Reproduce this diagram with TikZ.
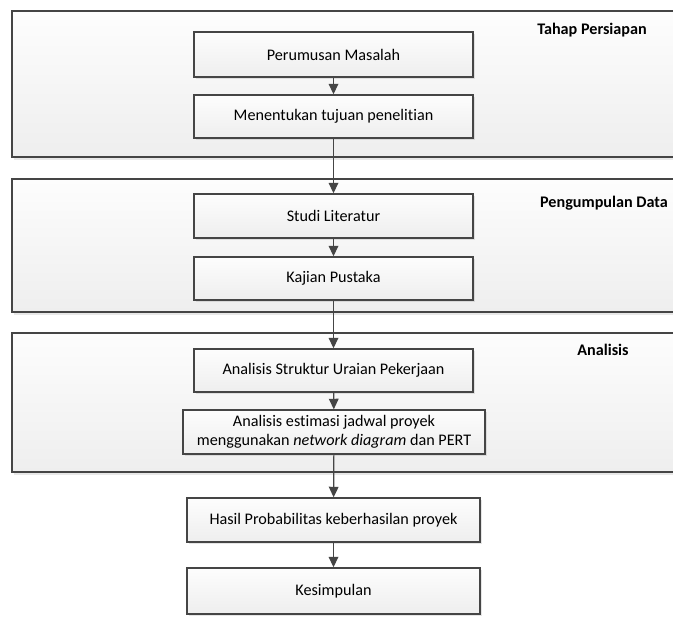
\documentclass[tikz,border=0pt]{standalone}
\usepackage{fontspec}
\setmainfont{Carlito}[Ligatures={NoCommon}]
\usetikzlibrary{arrows.meta,shadows}

\definecolor{edge}{HTML}{454545}
\definecolor{paneltop}{HTML}{FDFDFD}
\definecolor{panelbot}{HTML}{EEEEEE}

\begin{document}
\begin{tikzpicture}[x=0.02cm,y=-0.02cm,
	stage/.style={draw=edge,line width=0.9pt,top color=paneltop,bottom color=panelbot,
		drop shadow={opacity=0.18,shadow xshift=1pt,shadow yshift=-1.5pt}},
	proc/.style={draw=edge,line width=0.8pt,top color=paneltop,bottom color=panelbot,
		minimum width=5.58cm,minimum height=0.88cm,inner sep=1pt,align=center,
		font=\fontsize{9.2}{10.8}\selectfont,
		drop shadow={opacity=0.2,shadow xshift=1pt,shadow yshift=-1.2pt}},
	tag/.style={font=\fontsize{9.2}{10.8}\selectfont\bfseries,inner sep=0pt},
	flow/.style={draw=edge,line width=0.7pt,-{Triangle[width=5.5pt,length=6pt]}}]
	\clip (0,0) rectangle (673,616);
	\fill[white] (0,0) rectangle (673,616);

	% tahapan
	\draw[stage] (12,11) rectangle (700,157);
	\draw[stage] (12,179) rectangle (700,312);
	\draw[stage] (12,333) rectangle (700,472);
	\node[tag] (tag1) at (592,30) {Tahap Persiapan};
	\node[tag] (tag2) at (604,203) {Pengumpulan Data};
	\node[tag] (tag3) at (603,350) {Analisis};

	% proses
	\node[proc,minimum height=0.9cm] (masalah) at (333.5,54.5) {Perumusan Masalah};
	\node[proc,minimum height=0.86cm] (tujuan) at (333.5,116.5) {Menentukan tujuan penelitian};
	\node[proc] (literatur) at (333.5,216) {Studi Literatur};
	\node[proc,minimum height=0.86cm] (pustaka) at (333.5,278.5) {Kajian Pustaka};
	\node[proc,minimum height=0.86cm] (wbs) at (333.5,370.5) {Analisis Struktur Uraian Pekerjaan};
	\node[proc,minimum width=6.04cm] (jadwal) at (334,432)
		{Analisis estimasi jadwal proyek\\menggunakan \textit{network diagram} dan PERT};
	\node[proc,minimum width=5.86cm] (hasil) at (333.5,520) {Hasil Probabilitas keberhasilan proyek};
	\node[proc,minimum width=5.86cm,minimum height=0.92cm] (simpulan) at (333.5,591) {Kesimpulan};

	\draw[flow] (masalah) -- (tujuan);
	\draw[flow] (tujuan) -- (literatur);
	\draw[flow] (literatur) -- (pustaka);
	\draw[flow] (pustaka) -- (wbs);
	\draw[flow] (wbs) -- (jadwal);
	\draw[flow] (jadwal) -- (hasil);
	\draw[flow] (hasil) -- (simpulan);
\end{tikzpicture}
\end{document}
